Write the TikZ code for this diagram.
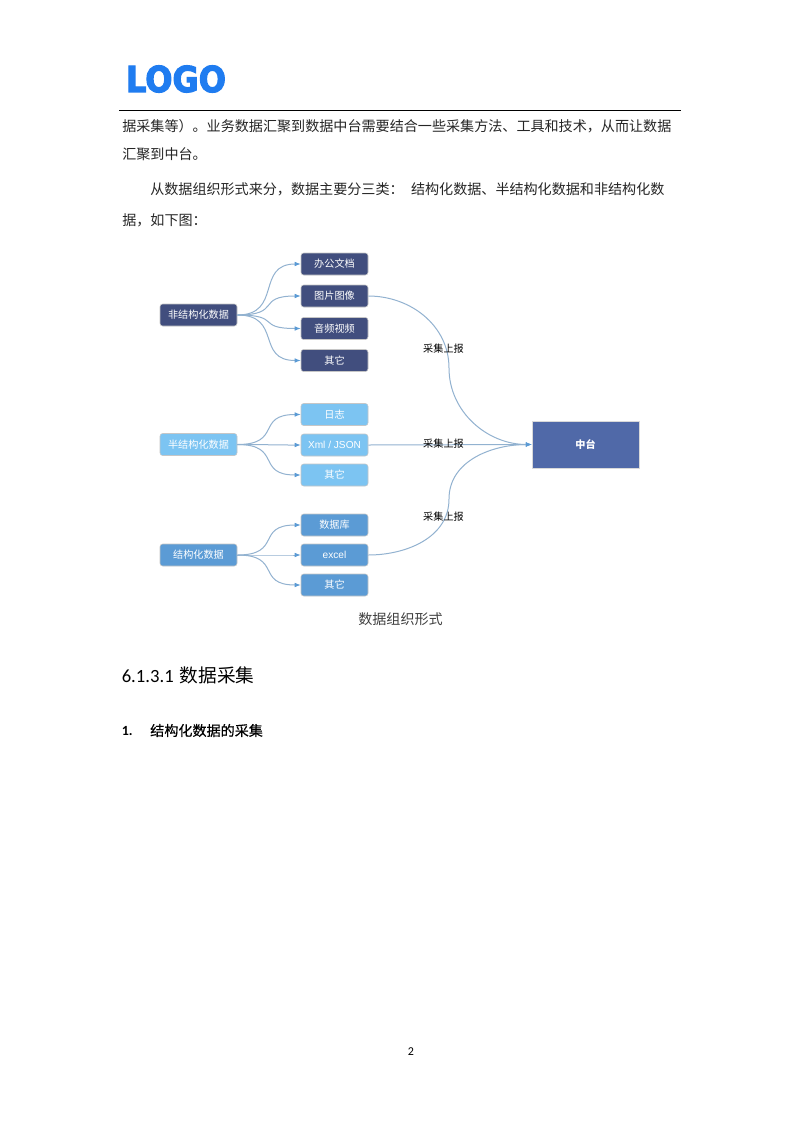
\documentclass[tikz,border=0pt]{standalone}
\usepackage{fontspec}
\setmainfont{Noto Sans CJK SC}
\newfontfamily\latinfont{Liberation Sans}
\newfontfamily\bodylatin{Carlito}
\newfontfamily\logofont[FakeBold=3.2]{DejaVu Sans Bold}
\newfontfamily\subfont[FakeBold=0.5]{Noto Sans CJK SC}
\usetikzlibrary{arrows.meta}
\definecolor{darkbox}{HTML}{414E7E}
\definecolor{lightbox}{HTML}{7CC4F2}
\definecolor{midbox}{HTML}{5B9BD5}
\definecolor{centerbox}{HTML}{5069A8}
\definecolor{linkline}{HTML}{92B2D0}
\definecolor{linktip}{HTML}{5B9BD5}
\definecolor{logoblue}{HTML}{1F7CF0}
\tikzset{
  body/.style={anchor=west,inner sep=0pt,font=\fontsize{10.56}{12}\selectfont,text=black!85},
  box/.style={rounded corners=2pt,draw=gray!45,line width=0.4pt,text=white,align=center,inner sep=0pt,
    minimum height=16.5pt,font=\fontsize{7.6}{9}\selectfont},
  parentbox/.style={box,minimum width=57.75pt},
  childbox/.style={box,minimum width=50.25pt},
  dark/.style={fill=darkbox},
  light/.style={fill=lightbox},
  mid/.style={fill=midbox},
  link/.style={linkline,line width=0.75pt},
  branch/.style={link,-{Latex[length=4.5pt,width=3.5pt,color=linktip]}},
  fork/.style={out=0,in=180,distance=34pt},
  tag/.style={inner sep=0pt,text=black,font=\fontsize{7.6}{9}\selectfont}
}
\begin{document}
\begin{tikzpicture}[x=0.75pt,y=-0.75pt]
\useasboundingbox (0,0) rectangle (800,1132);
\fill[white] (0,0) rectangle (800,1132);
\node[inner sep=0pt,text=logoblue,xscale=0.96,yscale=1.07] (logo) at (176,79) {\logofont\fontsize{25}{25}\selectfont LOGO};
\coordinate (ruleL) at (119,110);
\coordinate (ruleR) at (681,110);
\draw[black,line width=0.6pt] (ruleL) -- (ruleR);

\node[body] (line1) at (122,126) {据采集等）。业务数据汇聚到数据中台需要结合一些采集方法、工具和技术，从而让数据};
\node[body] (line2) at (122,154) {汇聚到中台。};
\node[body] (line3) at (150,189) {从数据组织形式来分，数据主要分三类：\hspace{5.5pt}结构化数据、半结构化数据和非结构化数};
\node[body] (line4) at (122,220) {据，如下图：};

\node[parentbox,dark] (fei) at (198.5,315) {非结构化数据};
\node[childbox,dark] (office) at (334.5,264) {办公文档};
\node[childbox,dark] (pic) at (334.5,296) {图片图像};
\node[childbox,dark] (av) at (334.5,328.5) {音频视频};
\node[childbox,dark] (other1) at (334.5,360.5) {其它};

\node[parentbox,light] (ban) at (198.5,444.5) {半结构化数据};
\node[childbox,light] (log) at (334.5,414.5) {日志};
\node[childbox,light] (xml) at (334.5,445) {\latinfont Xml / JSON};
\node[childbox,light] (other2) at (334.5,475) {其它};

\node[parentbox,mid] (jie) at (198.5,555) {结构化数据};
\node[childbox,mid] (db) at (334.5,525) {数据库};
\node[childbox,mid] (excel) at (334.5,555) {\latinfont excel};
\node[childbox,mid] (other3) at (334.5,585) {其它};

\node[fill=centerbox,draw=gray!30,line width=0.3pt,text=white,inner sep=0pt,minimum width=80.25pt,minimum height=35.25pt,
  font=\fontsize{7.6}{9}\selectfont\bfseries] (zhong) at (585.5,444.5) {中台};

\draw[branch] (fei.east) to[fork] (office.west);
\draw[branch] (fei.east) to[fork] (pic.west);
\draw[branch] (fei.east) to[fork] (av.west);
\draw[branch] (fei.east) to[fork] (other1.west);
\draw[branch] (ban.east) to[fork] (log.west);
\draw[branch] (ban.east) to[fork] (xml.west);
\draw[branch] (ban.east) to[fork] (other2.west);
\draw[branch] (jie.east) to[fork] (db.west);
\draw[branch] (jie.east) to[fork] (excel.west);
\draw[branch] (jie.east) to[fork] (other3.west);

\coordinate (bendT) at (449,368);
\coordinate (bendB) at (449,499);
\draw[branch] (pic.east) to[out=0,in=90] (bendT) to[out=-90,in=180] (zhong.west);
\draw[branch] (xml.east) -- (zhong.west);
\draw[branch] (excel.east) to[out=0,in=-90] (bendB) to[out=90,in=180] (zhong.west);

\node[tag] (tag1) at (443.5,349) {采集上报};
\node[tag] (tag2) at (443.5,444) {采集上报};
\node[tag] (tag3) at (443.5,516.5) {采集上报};

\node[inner sep=0pt,text=black!75,font=\fontsize{10.56}{12}\selectfont] (caption) at (400.5,619) {数据组织形式};
\node[anchor=west,inner sep=0pt,text=black,font=\fontsize{14}{16}\selectfont] (head) at (121.5,675) {\bodylatin 6.1.3.1\hspace{4.5pt}\rmfamily 数据采集};
\node[anchor=west,inner sep=0pt,text=black,font=\fontsize{10.5}{12}\selectfont] (num) at (121.5,730.5) {\bodylatin\bfseries 1.};
\node[anchor=west,inner sep=0pt,text=black,font=\fontsize{10.56}{12}\selectfont] (sub) at (150,730.5) {\subfont 结构化数据的采集};
\node[inner sep=0pt,text=black,font=\fontsize{9}{10}\selectfont] (page) at (411,1051.5) {\bodylatin 2};
\end{tikzpicture}
\end{document}
